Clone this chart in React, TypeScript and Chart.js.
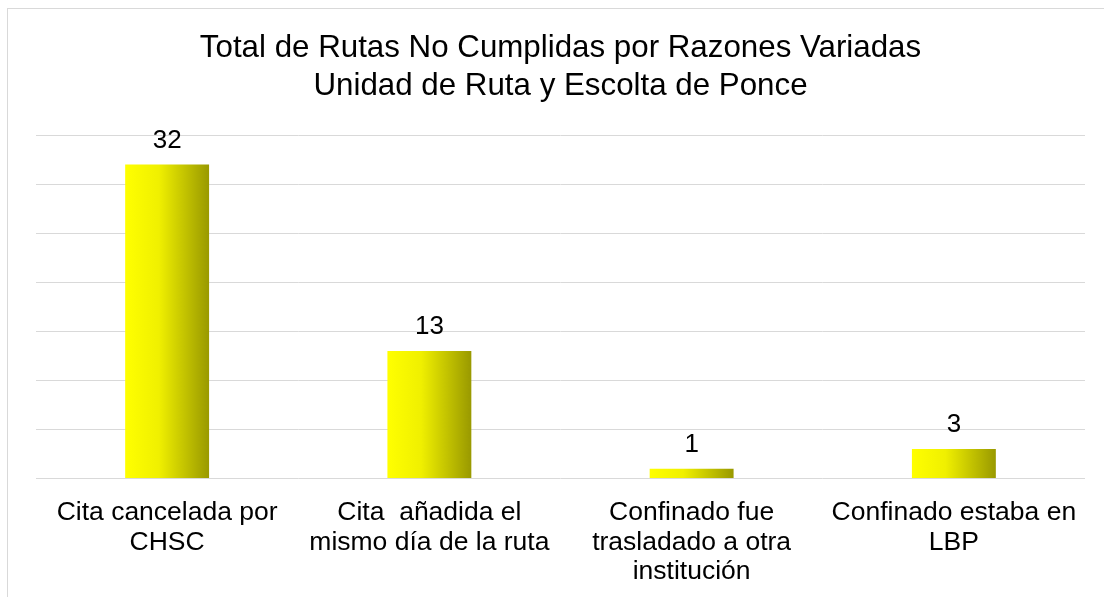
import React, { useEffect, useRef } from "react";
import { Chart, registerables } from "chart.js";

Chart.register(...registerables);

const titleLines = [
  "Total de Rutas No Cumplidas por Razones Variadas",
  "Unidad de Ruta y Escolta de Ponce",
];
const categories: string[][] = [
  ["Cita cancelada por", "CHSC"],
  ["Cita  añadida el", "mismo día de la ruta"],
  ["Confinado fue", "trasladado a otra", "institución"],
  ["Confinado estaba en", "LBP"],
];
const values = [32, 13, 1, 3];
const yMin = 0;
const yMax = 35;
const yStep = 5;

const FONT = "'Liberation Sans', Arial, sans-serif";

const dataLabelPlugin = {
  id: "dataLabels",
  afterDatasetsDraw(chart: any) {
    const ctx = chart.ctx;
    const meta = chart.getDatasetMeta(0);
    ctx.save();
    ctx.font = `26px ${FONT}`;
    ctx.fillStyle = "#000000";
    ctx.textAlign = "center";
    ctx.textBaseline = "alphabetic";
    meta.data.forEach((el: any, i: number) => {
      const v = chart.data.datasets[0].data[i];
      ctx.fillText(String(v), el.x, el.y - 17);
    });
    ctx.restore();
  },
};

export default function App() {
  const ref = useRef<HTMLCanvasElement | null>(null);
  useEffect(() => {
    if (!ref.current) return;
    const chart = new Chart(ref.current, {
      type: "bar",
      data: {
        labels: categories,
        datasets: [
          {
            data: values,
            borderWidth: 0,
            barPercentage: 0.32,
            categoryPercentage: 1,
            backgroundColor: (c: any) => {
              const ch = c.chart;
              const xs = ch.scales?.x;
              if (!xs || c.dataIndex === undefined) return "#e6e600";
              const cx = xs.getPixelForValue(c.dataIndex);
              const w = (xs.width / categories.length) * 0.32;
              if (!isFinite(cx) || !isFinite(w) || w <= 0) return "#e6e600";
              const g = ch.ctx.createLinearGradient(cx - w / 2, 0, cx + w / 2, 0);
              g.addColorStop(0, "#ffff00");
              g.addColorStop(0.4, "#f0f000");
              g.addColorStop(1, "#999900");
              return g;
            },
          },
        ],
      },
      options: {
        animation: false,
        responsive: false,
        layout: { padding: { left: 28, right: 21, top: 0, bottom: 31 } },
        plugins: {
          legend: { display: false },
          tooltip: { enabled: false },
          title: {
            display: true,
            text: titleLines,
            color: "#000000",
            font: { family: FONT, size: 31.3, weight: "normal", lineHeight: 1.2 },
            padding: { top: 21, bottom: 30 },
          },
        },
        scales: {
          x: {
            grid: { display: false },
            border: { display: false },
            ticks: {
              color: "#000000",
              font: { family: FONT, size: 26.5, lineHeight: 1.1 },
              padding: 12,
              maxRotation: 0,
              autoSkip: false,
            },
          },
          y: {
            min: yMin,
            max: yMax,
            ticks: { display: false, stepSize: yStep },
            grid: { color: "#d9d9d9", lineWidth: 1, drawTicks: false },
            border: { display: false },
          },
        },
      },
      plugins: [dataLabelPlugin],
    });
    return () => chart.destroy();
  }, []);

  return (
    <div
      style={{
        position: "fixed",
        left: 0,
        top: 0,
        width: 1104,
        height: 597,
        overflow: "hidden",
        background: "#ffffff",
      }}
    >
      <div
        style={{
          position: "absolute",
          left: 7,
          top: 8,
          width: 1120,
          height: 640,
          border: "1px solid #d9d9d9",
        }}
      />
      <canvas
        ref={ref}
        width={1098}
        height={620}
        style={{ position: "absolute", left: 8, top: 9, width: 1098, height: 620 }}
      />
    </div>
  );
}
